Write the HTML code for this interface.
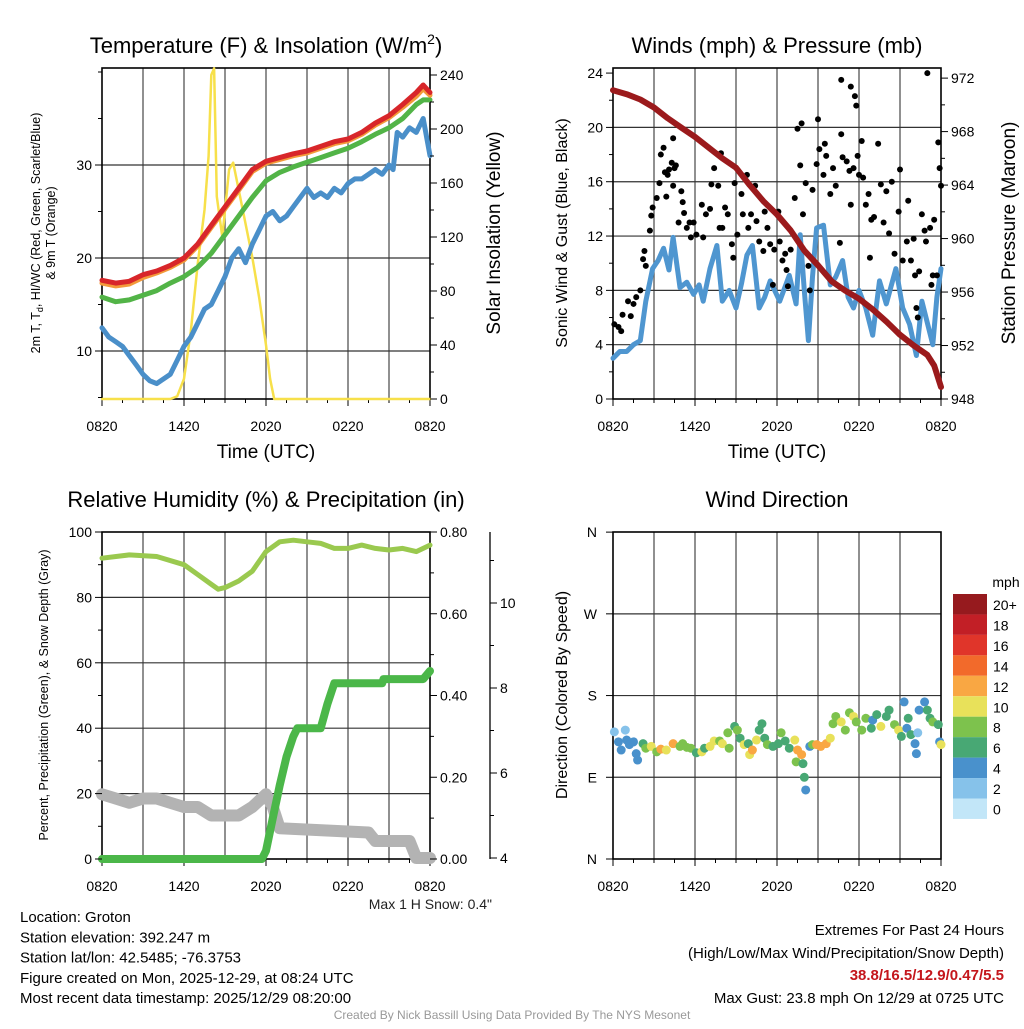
<!DOCTYPE html>
<html><head><meta charset="utf-8"><style>
body{margin:0;background:#fff}
svg text{font-family:"Liberation Sans",Arial,sans-serif}
</style></head><body>
<svg id="s" width="1024" height="1024" viewBox="0 0 1024 1024" xmlns="http://www.w3.org/2000/svg">
</svg>
<script>
// ---------- DATA ----------
const xTickLabels=["0820","1420","2020","0220","0820"];
const tempHours=[0,1,2,3,4,5,6,7,8,9,10,11,12,13,14,15,16,17,18,19,20,21,22,23,23.5,24];
const tempRed=[17.6,17.3,17.5,18.2,18.6,19.2,20.0,21.5,23.5,25.5,27.5,29.5,30.4,30.8,31.2,31.5,32.0,32.5,32.8,33.5,34.5,35.3,36.5,37.8,38.6,37.8];
const tempOrange=[17.3,17.0,17.2,17.9,18.4,19.0,19.8,21.3,23.3,25.3,27.3,29.3,30.2,30.6,31.0,31.3,31.8,32.3,32.6,33.3,34.3,35.1,36.2,37.4,38.2,37.5];
const dewGreen=[15.8,15.3,15.5,16.0,16.5,17.3,18.0,19.0,20.5,22.5,24.5,26.5,28.3,29.2,29.8,30.3,30.8,31.3,31.8,32.5,33.3,34.0,35.0,36.5,37.0,37.0];
const wcHours=[0,0.5,1,1.5,2,2.5,3,3.5,4,4.5,5,5.5,6,6.5,7,7.5,8,8.5,9,9.5,10,10.5,11,11.5,12,12.5,13,13.5,14,14.5,15,15.5,16,16.5,17,17.5,18,18.5,19,19.5,20,20.5,21,21.3,21.6,22,22.5,23,23.5,24];
const wcBlue=[12.5,11.5,11.0,10.5,9.5,8.5,7.5,6.8,6.5,7.0,7.5,9.0,10.5,11.5,13.0,14.5,15.0,16.5,18.0,20.0,21.0,19.5,21.5,23.0,24.5,25.0,24.0,24.5,25.5,26.5,27.5,26.5,27.0,26.5,27.5,27.0,28.0,28.5,28.5,29.0,29.5,29.0,30.0,29.5,33.5,33.0,34.0,33.5,35.0,31.0];
const solarHours=[0,5,5.5,6,6.5,7,7.5,7.8,8.0,8.2,8.4,8.8,9,9.3,9.6,10,10.5,11,11.5,12,12.3,12.6,24];
const solarVals=[0,0,2,15,50,100,140,180,240,245,150,120,140,170,175,155,130,105,75,40,15,0,0];
const windHours=[0,0.5,1,1.5,2,2.4,2.9,3.3,3.7,4.1,4.4,4.9,5.4,5.9,6.3,6.6,7.1,7.6,8.0,8.5,9.0,9.4,9.8,10.2,10.7,11.1,11.5,12.2,12.9,13.4,13.7,14.0,14.3,14.6,14.9,15.4,15.9,16.3,16.8,17.2,17.6,18.0,18.5,19.0,19.5,20.0,20.7,21.2,21.7,22.2,22.6,22.9,23.4,23.7,24];
const windVals=[3.0,3.5,3.5,4.0,4.3,7.2,9.6,10.2,11.1,9.5,11.9,8.2,8.6,7.7,8.4,7.2,9.6,11.3,7.2,8.0,6.7,8.5,10.6,11.3,6.7,7.5,8.7,7.2,9.1,7.0,12.1,8.0,4.3,9.0,12.6,12.8,8.4,9.0,10.2,7.5,6.7,8.0,6.7,4.7,8.7,7.0,9.6,6.7,5.5,3.2,7.2,6.0,4.0,7.5,9.6];
const presHours=[0,1,2,3,4,5,6,7,8,9,10,11,12,13,14,15,16,17,18,19,20,21,22,23,23.5,24];
const presVals=[971.1,970.8,970.4,969.8,969.0,968.3,967.6,966.8,966.0,965.3,964.0,962.8,961.8,960.6,959.1,958.0,956.8,956.1,955.5,954.7,953.8,952.8,952.0,951.3,950.5,948.9];
const gustHours=[0.1,0.4,0.6,0.7,1.1,1.3,1.5,1.7,2.0,2.2,2.3,2.4,2.7,2.8,2.9,3.2,3.4,3.5,3.7,3.8,4.0,4.1,4.3,4.4,4.5,4.6,3.9,4.4,4.8,5.0,5.1,5.2,5.4,5.6,5.7,5.9,6.1,6.5,6.6,6.8,7.1,7.2,7.4,7.7,7.8,7.9,8.0,8.2,8.4,8.7,8.8,8.9,9.1,9.4,9.5,9.8,9.9,10.1,10.4,10.5,10.7,11.0,11.1,11.3,11.5,11.7,11.8,12.1,12.2,12.4,12.6,12.7,12.8,13.0,13.3,13.5,13.7,13.8,13.9,14.1,14.3,14.4,14.6,14.9,15.0,15.1,15.4,15.5,15.6,15.9,16.1,16.3,16.6,16.7,16.8,17.1,17.3,17.4,17.6,17.7,17.8,17.9,18.0,18.2,18.3,18.5,18.7,18.8,18.9,19.1,19.4,19.6,19.8,20.0,20.2,20.4,20.6,20.9,21.0,21.2,21.5,21.6,21.8,22.0,22.1,22.2,22.3,22.4,22.6,22.8,22.9,23.2,23.3,23.4,23.5,23.7,23.8,23.9,24.0,23.0,16.7,17.4];
const gustVals=[5.5,5.3,5.0,6.2,7.2,6.1,7.0,7.5,8.0,10.3,10.9,9.8,12.4,13.5,14.1,14.8,15.9,18.0,18.5,16.7,16.5,16.9,17.4,19.2,17.0,17.2,14.9,15.7,13.0,15.3,14.5,13.7,12.6,13.0,11.9,13.0,12.1,14.3,11.9,13.6,14.0,15.8,17.0,15.7,12.6,18.1,12.6,14.1,13.6,11.4,10.4,15.9,12.1,15.1,13.6,16.5,12.6,13.6,15.7,13.1,11.6,10.9,13.8,12.6,11.4,8.4,11.0,13.8,11.6,10.2,10.7,9.5,8.3,11.0,14.8,19.9,17.2,20.3,13.6,15.9,9.8,8.0,15.4,17.3,20.6,18.4,16.5,18.8,17.9,15.1,17.0,15.7,11.5,19.5,17.8,17.5,16.8,14.3,17.0,22.3,21.6,17.9,16.5,19.0,16.3,14.3,15.1,10.4,13.2,13.4,18.8,15.8,13.0,15.3,12.2,16.0,10.7,13.8,16.9,10.2,11.6,14.6,10.2,11.8,9.1,6.7,6.0,9.4,13.6,12.4,11.6,12.6,8.4,9.1,13.2,9.1,18.9,17.0,15.7,24.0,23.5,23.0];
const rhHours=[0,2,4,6,7,8,8.5,9,10,11,12,13,14,15,16,17,18,19,20,21,22,23,24];
const rhVals=[92,93,92.5,90,87,84,82.5,83,85,88,94,97,97.5,97,96.5,95,95,96,95,94.5,95,94,96];
const precipHours=[0,11.7,12,12.5,13,13.5,14,14.3,16,16.5,17,20.5,20.6,23.5,24];
const precipVals=[0,0,0.02,0.10,0.18,0.25,0.30,0.32,0.32,0.38,0.43,0.43,0.44,0.44,0.46];
const snowHours=[0,1,2,3,4,5,6,7,8,9,10,11,12,12.5,13,19.5,20,22.5,23,24];
const snowVals=[5.5,5.4,5.3,5.4,5.4,5.3,5.2,5.2,5.0,5.0,5.0,5.2,5.5,5.2,4.7,4.6,4.4,4.4,4.0,4.0];
const dirHours=[0.1,0.4,0.6,0.9,1.0,1.2,1.5,1.7,1.8,2.2,2.4,2.8,3.2,3.5,3.9,4.4,4.9,5.1,5.4,5.7,6.1,6.5,6.7,7.1,7.4,7.8,8.0,8.4,8.5,8.9,9.1,9.3,9.6,9.9,10.0,10.2,10.5,10.7,10.9,11.1,11.3,11.7,12.1,12.3,12.6,12.9,13.3,13.5,13.8,13.4,13.9,14.0,14.1,14.4,14.6,14.9,15.2,15.6,15.9,16.1,16.3,16.7,17.0,17.3,17.6,17.8,18.2,18.5,18.9,19.0,19.3,19.6,20.0,20.2,20.6,20.9,21.1,21.3,21.5,21.6,21.8,22.1,22.2,22.3,22.4,22.8,23.0,23.2,23.4,23.8,23.9,24.0];
const dirDeg=[140,129,120,142,131,126,129,116,109,127,122,124,118,121,120,127,124,127,123,122,117,118,122,124,130,130,127,139,122,146,142,133,126,127,115,120,131,142,149,133,126,124,127,139,130,122,131,120,115,107,105,90,76,124,126,126,124,127,133,149,157,151,142,161,157,151,142,155,144,153,159,146,157,164,148,142,135,173,144,155,137,127,116,139,164,173,164,155,151,148,129,126];
const dirSpeed=[3,4,4,2,4,4,4,4,4,6,8,10,9,12,10,12,8,8,8,8,6,10,6,10,10,8,10,8,8,6,8,6,10,6,10,12,10,6,6,6,8,6,6,8,6,6,10,12,12,8,6,6,4,4,8,12,12,12,10,8,8,10,8,8,10,8,8,8,6,4,6,10,6,6,8,10,6,4,4,6,6,4,4,2,4,4,6,6,8,6,4,10];
const speedLabels=["0","2","4","6","8","10","12","14","16","18","20+"];
const speedColors=["#c2e6f8","#86c2ea","#4991cc","#48a874","#7dc24d","#e8e15a","#f9a743","#f26a2b","#e0352a","#c21f26","#961a1e"];

// ---------- DRAWING ----------
const S=document.getElementById('s');
const NS='http://www.w3.org/2000/svg';
function el(tag,attrs,parent){const e=document.createElementNS(NS,tag);for(const k in attrs)e.setAttribute(k,attrs[k]);(parent||S).appendChild(e);return e;}
function txt(x,y,str,size,anchor,opts){opts=opts||{};const t=el('text',{x:x,y:y,'font-size':size,'text-anchor':anchor||'middle',fill:opts.fill||'#000'});if(opts.weight)t.setAttribute('font-weight',opts.weight);if(opts.rot)t.setAttribute('transform','rotate(-90 '+x+' '+y+')');t.textContent=str;return t;}
function poly(hs,vs,X,Y,color,w,name){const p=el('polyline',{points:hs.map((h,i)=>X(h).toFixed(1)+','+Y(vs[i]).toFixed(1)).join(' '),fill:'none',stroke:color,'stroke-width':w,'stroke-linejoin':'round','stroke-linecap':'round'});


return p;}

function panel(x0,y0,y1,hLines,name,labelY){
  const X=h=>x0+h*328/24;
  const g=el('g',{});
  
  
  for(let h=3;h<24;h+=3) el('line',{x1:X(h),x2:X(h),y1:y0,y2:y1,stroke:'#555','stroke-width':1.3},g);
  hLines.forEach(y=>el('line',{x1:x0,x2:x0+328,y1:y,y2:y,stroke:'#333','stroke-width':1.2},g));
  for(let h=0;h<=24;h+=1.5){const big=h%6==0;el('line',{x1:X(h),x2:X(h),y1:y1,y2:y1+(big?7:4),stroke:'#000','stroke-width':1},g);}
  xTickLabels.forEach((l,i)=>{const t=txt(X(i*6),labelY,l,14);});
  return {X,g};
}
function frame(x0,y0,y1,g){el('rect',{x:x0,y:y0,width:328,height:y1-y0,fill:'none',stroke:'#000','stroke-width':1.6},g);}
function yTicks(vals,Y,x,side,labels,minorVals){
  vals.forEach((v,i)=>{const y=Y(v);el('line',{x1:x,x2:x+(side<0?-7:7),y1:y,y2:y,stroke:'#000','stroke-width':1});
   const t=txt(x+(side<0?-10:10),y+5,labels[i],14,side<0?'end':'start');});
  (minorVals||[]).forEach(v=>{const y=Y(v);el('line',{x1:x,x2:x+(side<0?-4:4),y1:y,y2:y,stroke:'#000','stroke-width':1});});
}

// Panel 1
{
 const yL=v=>351-(v-10)*9.3, yR=s=>399-s*1.35;
 const {X,g}=panel(102,68,399,[yL(10),yL(20),yL(30)],'temperature-panel',431);
 poly(solarHours,solarVals,X,yR,'#f7e04a',2.5,'solar-insolation-line');
 poly(wcHours,wcBlue,X,yL,'#4a8fc9',5,'windchill-line');
 poly(tempHours,dewGreen,X,yL,'#52b447',5,'dewpoint-line');
 poly(tempHours,tempOrange,X,yL,'#f39a3a',5,'temp-9m-line');
 poly(tempHours,tempRed,X,yL,'#d8262a',5,'temp-2m-line');
 frame(102,68,399,g);
 yTicks([10,20,30],yL,102,-1,['10','20','30'],[5,15,25,35,40]);
 yTicks([0,40,80,120,160,200,240],yR,430,1,['0','40','80','120','160','200','240'],[20,60,100,140,180,220]);
 const t=el('text',{x:266,y:53,'font-size':22,'text-anchor':'middle'});t.innerHTML='Temperature (F) &amp; Insolation (W/m<tspan dy="-9" font-size="14">2</tspan><tspan dy="9">)</tspan>';
 
 txt(266,458,'Time (UTC)',19);
 const a=el('text',{x:40,y:233,'font-size':12.5,'text-anchor':'middle',transform:'rotate(-90 40 233)'});a.innerHTML='2m T, T<tspan dy="3" font-size="9">d</tspan><tspan dy="-3">, HI/WC (Red, Green, Scarlet/Blue)</tspan>';
 
 txt(55,233,'& 9m T (Orange)',12.5,'middle',{rot:1});
 txt(500,233,'Solar Insolation (Yellow)',19,'middle',{rot:1});
}
// Panel 2
{
 const yL=v=>399-v*13.58, yR=p=>399-(p-948)*13.37;
 const {X,g}=panel(613,68,399,[4,8,12,16,20].map(yL),'winds-panel',431);
 poly(windHours,windVals,X,yL,'#4f96d0',5,'sonic-wind-line');
 gustHours.forEach((h,i)=>{const c=el('circle',{cx:X(h),cy:yL(gustVals[i]),r:3,fill:'#000'});
  
  });
 poly(presHours,presVals,X,yR,'#9b1a1c',6,'pressure-line');
 frame(613,68,399,g);
 yTicks([0,4,8,12,16,20,24],yL,613,-1,['0','4','8','12','16','20','24'],[2,6,10,14,18,22]);
 yTicks([948,952,956,960,964,968,972],yR,941,1,['948','952','956','960','964','968','972'],[950,954,958,962,966,970]);
 txt(777,53,'Winds (mph) & Pressure (mb)',22);
 txt(777,458,'Time (UTC)',19);
 txt(567,233,'Sonic Wind & Gust (Blue, Black)',16,'middle',{rot:1});
 txt(1015,233,'Station Pressure (Maroon)',19,'middle',{rot:1});
}
// Panel 3
{
 const yL=v=>859-v*3.27, yP=v=>859-v*408.75, yS=s=>858-(s-4)*42.5;
 const {X,g}=panel(102,532,859,[20,40,60,80].map(yL),'humidity-panel',891);
 poly(snowHours,snowVals,X,yS,'#b3b3b3',12,'snow-depth-line');
 poly(rhHours,rhVals,X,yL,'#9ac94f',5,'relative-humidity-line');
 poly(precipHours,precipVals,X,yP,'#4bb749',8,'precipitation-line');
 frame(102,532,859,g);
 yTicks([0,20,40,60,80,100],yL,102,-1,['0','20','40','60','80','100'],[10,30,50,70,90]);
 yTicks([0,0.2,0.4,0.6,0.8],yP,430,1,['0.00','0.20','0.40','0.60','0.80'],[0.1,0.3,0.5,0.7]);
 el('line',{x1:490,x2:490,y1:532,y2:859,stroke:'#000','stroke-width':1.3});
 yTicks([4,6,8,10],yS,490,1,['4','6','8','10'],[5,7,9,11]);
 txt(266,507,'Relative Humidity (%) & Precipitation (in)',22);
 txt(48,695,'Percent, Precipitation (Green), & Snow Depth (Gray)',12.5,'middle',{rot:1});
 txt(492,909,'Max 1 H Snow: 0.4"',14,'end',{fill:'#222'});
}
// Panel 4
{
 const yD=d=>859-d*0.908;
 const {X,g}=panel(613,532,859,[90,180,270].map(yD),'wind-direction-panel',891);
 dirHours.forEach((h,i)=>{const k=Math.min(10,Math.floor(dirSpeed[i]/2));const c=el('circle',{cx:X(h),cy:yD(dirDeg[i]),r:4.5,fill:speedColors[k]});
  
  });
 frame(613,532,859,g);
 ['N','E','S','W','N'].forEach((l,i)=>{const y=yD(i*90);el('line',{x1:613,x2:606,y1:y,y2:y,stroke:'#000'});txt(597,y+5,l,14,'end');});
 txt(777,507,'Wind Direction',22);
 txt(567,695,'Direction (Colored By Speed)',16,'middle',{rot:1});
 txt(1006,587,'mph',14);
 for(let i=0;i<11;i++){const k=10-i;const y=594+i*20.45;
  const r=el('rect',{x:953,y:y,width:34,height:20.45,fill:speedColors[k]});
  
  
  txt(993,y+16,speedLabels[k],14,'start');}
}
// Text
const info=['Location: Groton','Station elevation: 392.247 m','Station lat/lon: 42.5485; -76.3753','Figure created on Mon, 2025-12-29, at 08:24 UTC','Most recent data timestamp: 2025/12/29 08:20:00'];
info.forEach((s,i)=>{const t=txt(20,922+i*20.3,s,15,'start');});
txt(1004,935,'Extremes For Past 24 Hours',15,'end');
txt(1004,958,'(High/Low/Max Wind/Precipitation/Snow Depth)',15,'end');
txt(1004,980,'38.8/16.5/12.9/0.47/5.5',15,'end',{fill:'#c4161c',weight:'bold'});
txt(1004,1003,'Max Gust: 23.8 mph On 12/29 at 0725 UTC',15,'end');
txt(512,1019,'Created By Nick Bassill Using Data Provided By The NYS Mesonet',12,'middle',{fill:'#999'});
</script>
</body></html>
